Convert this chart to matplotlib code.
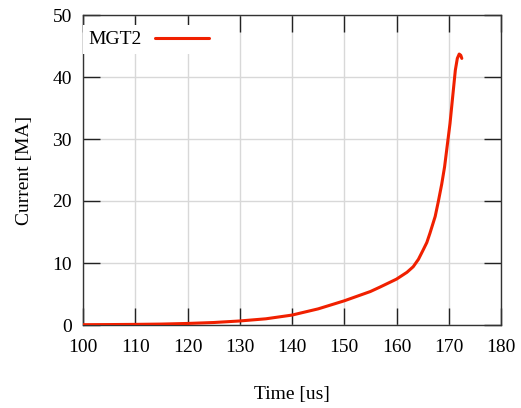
import matplotlib
matplotlib.use("Agg")
import matplotlib.pyplot as plt

# Discharge current of the MGT2 shot
time_us = [100, 105, 110, 115, 120, 125, 130, 135, 140, 145, 150, 155, 156.8,
           160, 162, 163.2, 164.2, 165.1, 165.8, 166.4, 167.4, 168.0, 168.65,
           169.2, 169.6, 170.24, 170.75, 171.26, 171.64, 172.0, 172.3, 172.5]
current_ma = [0.05, 0.07, 0.1, 0.15, 0.25, 0.4, 0.65, 1.0, 1.6, 2.6, 3.9, 5.4, 6.1,
              7.4, 8.5, 9.4, 10.6, 12.1, 13.3, 14.8, 17.5, 19.9, 22.7,
              25.5, 28.2, 32.5, 36.8, 41.1, 43.0, 43.7, 43.5, 43.0]
series_label = "MGT2"

x_ticks = [100, 110, 120, 130, 140, 150, 160, 170, 180]
y_ticks = [0, 10, 20, 30, 40, 50]

plt.rcParams['font.family'] = ['Liberation Serif', 'DejaVu Serif']
FS = 14

fig = plt.figure(figsize=(5.21, 4.08), dpi=100)
W, H = 521, 408
ax = fig.add_axes([83 / W, 1 - 325 / H, (501 - 83) / W, (325 - 15) / H])

ax.plot(time_us, current_ma, color='#f02000', lw=2.2, label=series_label,
        solid_capstyle='round', solid_joinstyle='round', zorder=3)

ax.set_xlim(100, 180)
ax.set_ylim(0, 50)
ax.set_xticks(x_ticks)
ax.set_yticks(y_ticks)
ax.grid(True, color='#d8d8d8', lw=1.0, zorder=0)
ax.set_axisbelow(True)

for s in ax.spines.values():
    s.set_color('#333333')
    s.set_linewidth(1.0)
ax.tick_params(direction='in', length=12, width=1.0, color='#222222',
               top=True, right=True, labelsize=FS)
ax.tick_params(axis='x', pad=10)
ax.tick_params(axis='y', pad=8)

ax.set_xlabel('Time [us]', fontsize=FS, labelpad=22)
ax.set_ylabel('Current [MA]', fontsize=FS, labelpad=14)

leg = ax.legend(loc='upper left', bbox_to_anchor=(0, 1 - 10 / 310),
                frameon=True, fancybox=False, framealpha=1,
                edgecolor='white', markerfirst=False, handlelength=2.75,
                borderaxespad=0, borderpad=0.3, handletextpad=0.67,
                fontsize=FS)
leg.get_frame().set_linewidth(0)
leg.set_zorder(5)

fig.savefig('out.png', dpi=100)
